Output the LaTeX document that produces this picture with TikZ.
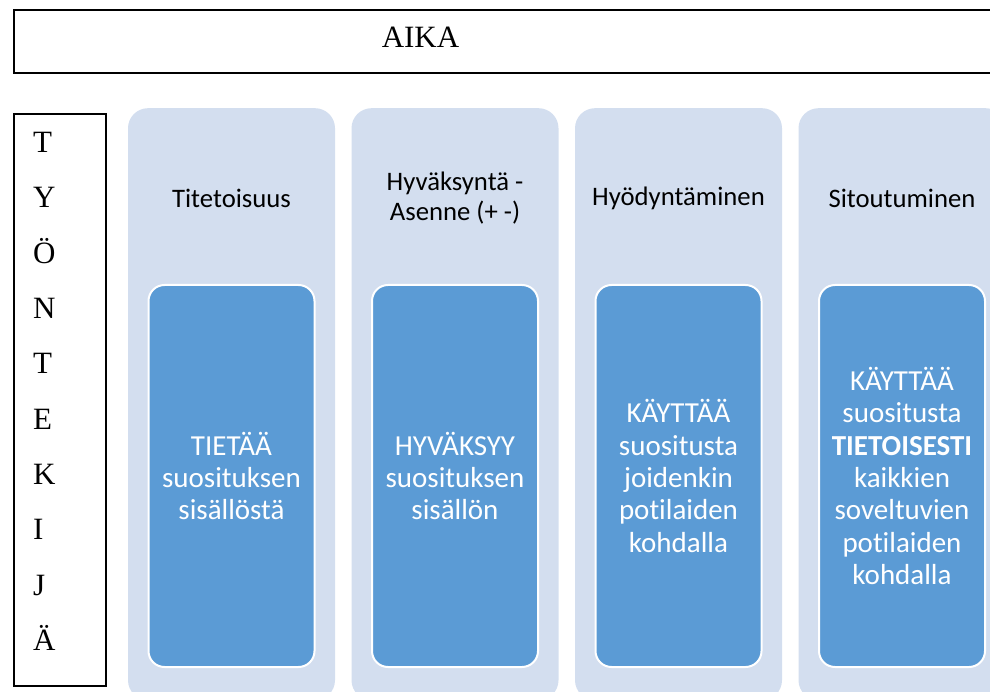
\documentclass[tikz,border=0pt]{standalone}
\usepackage{fontspec}
\setmainfont{Liberation Serif}
\newfontfamily\calibri[Ligatures=NoCommon]{Carlito}
\definecolor{ink}{HTML}{000000}
\definecolor{stagewash}{HTML}{D3DEEF}
\definecolor{stagefill}{HTML}{5B9BD5}
\tikzset{
  frame/.style={draw=ink, line width=1.7pt, anchor=north west, inner sep=0pt},
  stage/.style={fill=stagewash, rounded corners=20pt, minimum width=207pt, minimum height=592pt,
                anchor=north, inner sep=0pt},
  stagehead/.style={font=\calibri\fontsize{26.7}{30}\selectfont, text=ink, align=center},
  level/.style={fill=stagefill, draw=white, line width=2pt, rounded corners=16pt,
                minimum width=166pt, minimum height=382pt, anchor=north, inner sep=0pt},
  leveltext/.style={font=\calibri\fontsize{29}{32.3}\selectfont, text=white, align=center},
  letter/.style={font=\fontsize{31}{31}\selectfont, text=ink, anchor=base west, inner sep=0pt},
}

\begin{document}
\begin{tikzpicture}[x=1pt,y=-1pt]
\clip (0,0) rectangle (990,692);

% ================= time axis =================
\node[frame, minimum width=1000pt, minimum height=63pt] (aikabox) at (13,9) {};
\node[letter, anchor=base] (aika) at (420.5,47.7) {AIKA};

% ================= worker (letters stacked) =================
\node[frame, minimum width=92pt, minimum height=572pt] (worker) at (13,113) {};
\foreach \ch [count=\k from 0] in {T,Y,Ö,N,T,E,K,I,J,Ä}{
  \node[letter] (letter\k) at (33,152.3+55.38*\k) {\ch};
}

% ================= four stages =================
\foreach \i/\head/\body in {
  0/{Titetoisuus}/{TIETÄÄ\\suosituksen\\sisällöstä},
  1/{Hyväksyntä -\\Asenne (+ -)}/{HYVÄKSYY\\suosituksen\\sisällön},
  2/{Hyödyntäminen}/{KÄYTTÄÄ\\suositusta\\joidenkin\\potilaiden\\kohdalla},
  3/{Sitoutuminen}/{KÄYTTÄÄ\\suositusta\\\textbf{TIETOISESTI}\\kaikkien\\soveltuvien\\potilaiden\\kohdalla}}{
  \node[stage] (stage\i) at (231.5+223.5*\i,108) {};
  \node[stagehead] (head\i) at (231.5+223.5*\i,198) {\head};
  \node[level] (level\i) at (231.5+223.5*\i,284) {};
  \node[leveltext] (text\i) at (level\i.center) {\body};
}

\end{tikzpicture}
\end{document}
